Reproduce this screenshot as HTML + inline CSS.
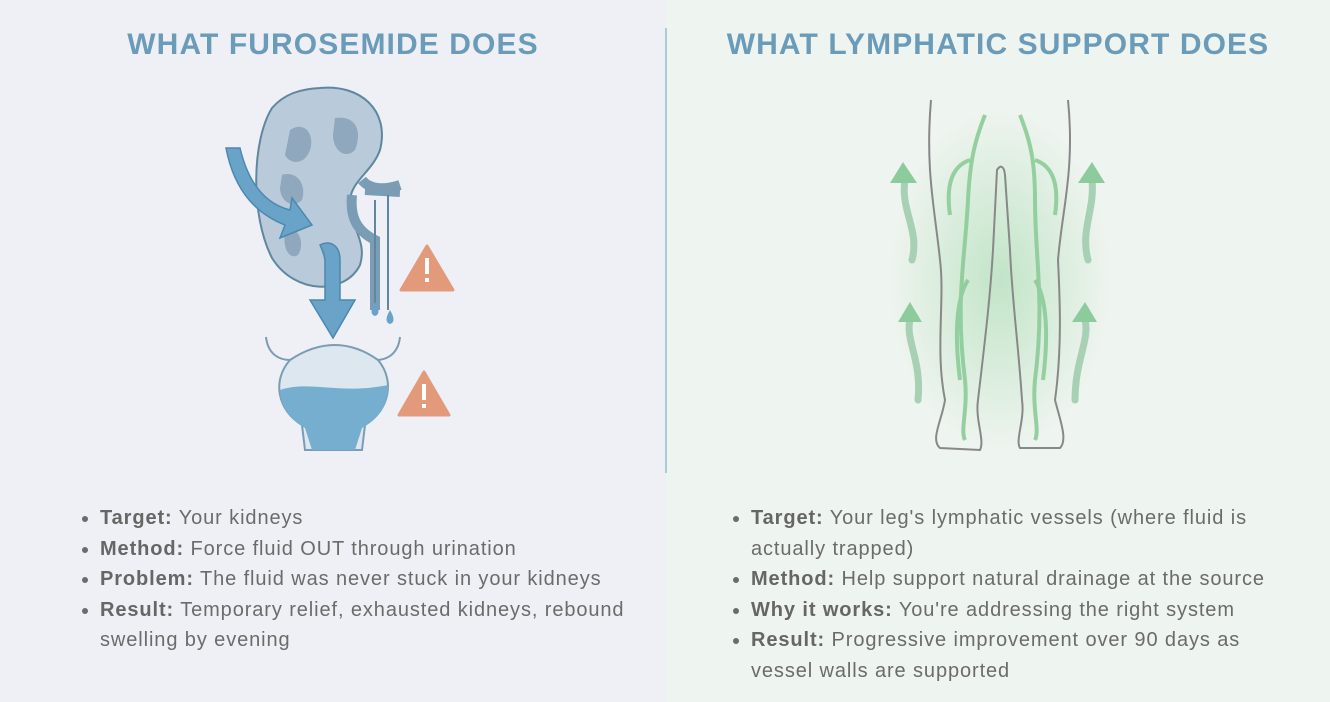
<!DOCTYPE html>
<html><head><meta charset="utf-8"><style>
body{margin:0;width:1330px;height:702px;overflow:hidden;font-family:"Liberation Sans",sans-serif;position:relative;background:#eef0f5}
.l{position:absolute;left:0;top:0;width:666px;height:702px;background:#eef0f5}
.r{position:absolute;left:666px;top:0;width:664px;height:702px;background:#eef4ef}
.div{position:absolute;left:665px;top:28px;width:2px;height:445px;background:#a9cbd8}
h1{position:absolute;margin:0;top:28px;font-size:30px;font-weight:bold;color:#6a9bb8;text-align:center;letter-spacing:1.1px}
ul{position:absolute;margin:0;padding-left:20px;font-size:20px;line-height:30.5px;color:#6b6b6b;letter-spacing:0.9px}
ul b{color:#666}
</style></head><body>
<div class="l"></div><div class="r"></div><div class="div"></div>
<h1 style="left:0;width:666px">WHAT FUROSEMIDE DOES</h1>
<h1 style="left:666px;width:664px">WHAT LYMPHATIC SUPPORT DOES</h1>
<svg width="1330" height="702" style="position:absolute;left:0;top:0">
<defs>
<radialGradient id="g"><stop offset="0" stop-color="#9fd8a8" stop-opacity=".8"/><stop offset="1" stop-color="#9fd8a8" stop-opacity="0"/></radialGradient>
</defs>
<path d="M320 88 C360 84 390 110 380 150 C372 172 352 180 350 200 C348 225 368 240 360 265 C345 295 295 295 272 258 C250 215 252 140 272 108 C284 94 300 89 320 88Z" fill="#b9cbda" stroke="#5f87a0" stroke-width="2"/>
<path d="M290 130 C305 120 315 135 310 150 C305 165 290 165 285 155Z M335 118 C355 115 363 130 355 150 C345 160 333 150 333 135Z M282 175 C297 170 307 185 302 200 C292 210 280 200 280 188Z M285 230 C300 225 305 245 298 255 C290 260 282 250 285 230Z" fill="#8fa8bd"/>
<path d="M352 195 C350 215 355 230 375 240 L375 310 M362 180 C370 190 385 190 400 185 M365 190 L400 192" stroke="#7a9cb4" stroke-width="10" fill="none"/>
<path d="M375 200 L375 310 M388 195 L388 310" stroke="#5f87a0" stroke-width="2" fill="none"/>
<path d="M226 148 L240 148 C250 190 270 205 290 210 L292 198 L312 225 L280 238 L285 225 C260 215 235 195 226 148Z" fill="#6aa3c8" stroke="#4c88b0" stroke-width="1.5"/>
<path d="M320 245 C330 240 340 245 340 260 L340 300 L355 300 L333 338 L310 300 L325 300 L325 262 C325 255 322 250 320 245Z" fill="#6aa3c8" stroke="#4c88b0" stroke-width="1.5"/>
<path d="M375 302 q-7 12 0 14 q7 -2 0 -14Z M390 310 q-7 12 0 14 q7 -2 0 -14Z M322 358 q-7 12 0 14 q7 -2 0 -14Z M344 353 q-7 12 0 14 q7 -2 0 -14Z" fill="#6aa3c8"/>
<path d="M266 337 C268 355 280 360 290 360 M400 337 C398 355 386 360 376 360" stroke="#7a9cb4" stroke-width="2" fill="none"/>
<path d="M290 360 C320 340 350 340 378 360 C395 380 390 410 365 425 L362 450 L305 450 L302 425 C277 410 272 380 290 360Z" fill="#dde7ef" stroke="#7a9cb4" stroke-width="2"/>
<path d="M280 390 C310 380 340 395 388 385 C388 410 375 420 362 428 L355 450 L312 450 L305 428 C290 420 280 405 280 390Z" fill="#76aed0"/>
<path d="M427 246 L453 290 L401 290Z" fill="#e39a7a" stroke="#e39a7a" stroke-width="3" stroke-linejoin="round"/>
<rect x="425" y="258" width="4" height="16" fill="#fff"/><rect x="425" y="278" width="4" height="4" fill="#fff"/>
<path d="M424 372 L449 415 L399 415Z" fill="#e39a7a" stroke="#e39a7a" stroke-width="3" stroke-linejoin="round"/>
<rect x="422" y="384" width="4" height="16" fill="#fff"/><rect x="422" y="404" width="4" height="4" fill="#fff"/>
<ellipse cx="1000" cy="280" rx="110" ry="170" fill="url(#g)" opacity=".7"/>
<path d="M931 100 C925 170 935 210 940 260 C945 300 935 350 945 400 C942 420 930 440 940 448 L980 450 C985 440 975 420 978 400 C985 340 990 300 993 250 L997 170 C1000 165 1004 165 1005 175 L1010 250 C1012 300 1018 340 1022 400 C1025 420 1015 440 1020 448 L1060 448 C1068 440 1060 420 1055 400 C1062 350 1060 300 1058 260 C1062 210 1075 170 1068 100" fill="none" stroke="#888" stroke-width="2"/>
<g fill="none" stroke="#8ccc98" stroke-width="4" opacity=".9">
<path d="M985 115 C975 140 970 160 968 200 C965 260 955 300 965 380 C968 410 960 430 965 440"/>
<path d="M970 160 C955 165 945 180 950 215"/>
<path d="M1020 115 C1030 140 1035 160 1035 200 C1035 260 1045 300 1035 380 C1032 410 1040 430 1035 440"/>
<path d="M1035 160 C1050 165 1060 180 1055 215"/>
<path d="M968 280 C955 300 955 340 960 380 M1035 280 C1048 300 1048 340 1043 380"/>
</g>
<g fill="none" stroke-width="7" stroke-linecap="round">
<path d="M912 260 C920 230 900 210 905 180" stroke="#a7d0b4"/>
<path d="M918 400 C922 360 905 340 910 320" stroke="#a7d0b4"/>
<path d="M1088 260 C1080 230 1095 210 1092 180" stroke="#a7d0b4"/>
<path d="M1075 400 C1075 360 1090 340 1085 320" stroke="#a7d0b4"/>
</g>
<g fill="#8ccc9c"><path d="M890 183 L903 162 L917 183Z"/><path d="M898 322 L910 302 L922 322Z"/><path d="M1078 183 L1092 162 L1105 183Z"/><path d="M1072 322 L1085 302 L1097 322Z"/></g>
</svg>
<ul style="left:80px;top:503px;width:560px">
<li><b>Target:</b> Your kidneys</li>
<li><b>Method:</b> Force fluid OUT through urination</li>
<li><b>Problem:</b> The fluid was never stuck in your kidneys</li>
<li><b>Result:</b> Temporary relief, exhausted kidneys, rebound swelling by evening</li>
</ul>
<ul style="left:731px;top:503px;width:540px">
<li><b>Target:</b> Your leg's lymphatic vessels (where fluid is actually trapped)</li>
<li><b>Method:</b> Help support natural drainage at the source</li>
<li><b>Why it works:</b> You're addressing the right system</li>
<li><b>Result:</b> Progressive improvement over 90 days as vessel walls are supported</li>
</ul>
</body></html>
